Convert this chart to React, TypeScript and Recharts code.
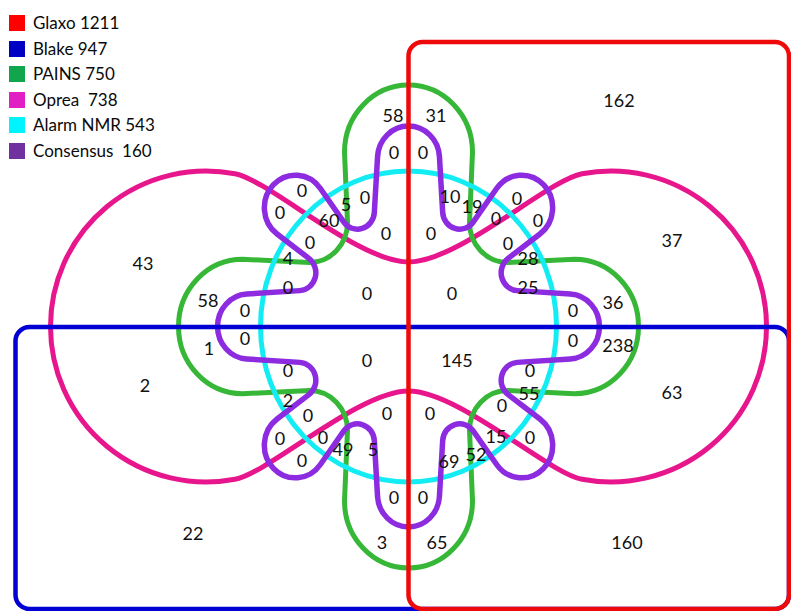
import React from "react";
import { ScatterChart, Scatter, XAxis, YAxis, ReferenceArea } from "recharts";

const W = 791;
const H = 611;
const X_DOMAIN: [number, number] = [0, W];
const Y_DOMAIN: [number, number] = [0, H];
const PX = W / (X_DOMAIN[1] - X_DOMAIN[0]);

// ---------- legend ----------
const legendLabels = ["Glaxo 1211", "Blake 947", "PAINS 750", "Oprea  738", "Alarm NMR 543", "Consensus  160"];
const legendColors = ["#ff0000", "#0000c4", "#12a64c", "#e01ec4", "#00f4ff", "#7030a0"];

// ---------- region counts & their anchors ----------
const regionCounts = [
  58, 31, 0, 0,
  0, 0, 60, 5, 0,
  0, 0, 10, 19,
  0, 0, 0, 0, 28,
  0, 4,
  0, 0, 0, 25,
  58, 0, 1, 0,
  0, 36, 0, 238,
  0, 0, 145, 0,
  2, 0, 0, 0, 0, 55,
  0, 0, 49, 5, 69, 52, 15, 0,
  0,
  0, 0,
  3, 65,
  162, 43, 37, 2, 63, 22, 160,
];
const regionAnchorX = [
  393, 436, 394, 423,
  302, 280, 329, 346, 365,
  386, 431, 450, 472,
  517, 496, 538, 508, 528,
  310, 288,
  288, 367, 452, 528,
  208, 245, 209, 245,
  573, 613, 573, 618,
  288, 367, 457, 530,
  288, 308, 387, 430, 502, 529,
  280, 323, 343, 373, 449, 476, 496, 530,
  302,
  394, 423,
  382, 437,
  619, 143, 672, 145, 672, 193, 627,
];
const regionAnchorY = [
  115, 115, 152, 152,
  190, 212, 220, 204, 197,
  233, 233, 196, 206,
  198, 218, 220, 243, 258,
  242, 258,
  287, 293, 293, 287,
  300, 310, 348, 338,
  310, 302, 340, 345,
  370, 360, 360, 370,
  400, 415, 413, 413, 405, 393,
  438, 437, 449, 449, 461, 454, 436, 437,
  460,
  497, 497,
  542, 542,
  100, 263, 240, 385, 392, 533, 542,
];
const regionData = regionCounts.map((v, i) => ({ x: regionAnchorX[i], y: regionAnchorY[i], v }));

// ---------- set outlines (geometry in chart units) ----------
const center = [{ x: 408.5, y: 326.5 }];
const STRETCH_Y = 1.05;
const glaxoBox = { x1: 408.5, x2: 789, y1: 42, y2: 609 };
const blakeBox = { x1: 15.5, x2: 789, y1: 327, y2: 609 };

// Oprea (two circles joined by inner curves)
const OP_CIRCLE_DX = 202.5;
const OP_R = 155.5;
const OP_JX = 173.5;
const OP_INNER = 64.5;
// PAINS (four lobes)
const PA_LOBE_DIST = 166;
const PA_LOBE_R = 64;
const PA_NECK = 99;
const PA_LEG = 61;
// Alarm NMR (circle)
const AL_R = 148;
// Consensus (wavy ring)
const CO_LOBE_DIST = 160;
const CO_LOBE_R = 31;
const CO_BEND_DIST = 121;
const CO_BEND_R = 17;

const COLORS = {
  glaxo: "#ee0a0a",
  blake: "#0000d4",
  pains: "#37b737",
  oprea: "#e8168c",
  alarm: "#14ecf4",
  cons: "#8c2be0",
};

const rad = (a: number) => (a * Math.PI) / 180;
const f = (n: number) => (n * PX).toFixed(2);

function opreaPath(): string {
  const dx = OP_CIRCLE_DX - OP_JX;
  const JY = Math.sqrt(OP_R * OP_R - dx * dx);
  const tl = 35;
  const tx = JY / OP_R;
  const ty = dx / OP_R;
  const p1x = OP_JX - tl * tx;
  const p1y = JY - tl * ty;
  const R = OP_R;
  return [
    `M ${f(-OP_JX)} ${f(-JY)}`,
    `C ${f(-p1x)} ${f(-p1y)} ${f(-50)} ${f(-OP_INNER)} 0 ${f(-OP_INNER)}`,
    `C ${f(50)} ${f(-OP_INNER)} ${f(p1x)} ${f(-p1y)} ${f(OP_JX)} ${f(-JY)}`,
    `A ${f(R)} ${f(R)} 0 1 1 ${f(OP_JX)} ${f(JY)}`,
    `C ${f(p1x)} ${f(p1y)} ${f(50)} ${f(OP_INNER)} 0 ${f(OP_INNER)}`,
    `C ${f(-50)} ${f(OP_INNER)} ${f(-p1x)} ${f(p1y)} ${f(-OP_JX)} ${f(JY)}`,
    `A ${f(R)} ${f(R)} 0 1 1 ${f(-OP_JX)} ${f(-JY)} Z`,
  ].join(" ");
}

function painsPath(): string {
  let d = "";
  const rf = PA_NECK - PA_LEG;
  for (let k = 0; k < 4; k++) {
    const t = rad(-90 + 90 * k);
    const e = [Math.cos(t), Math.sin(t)];
    const p = [-e[1], e[0]];
    const pt = (u: number, v: number) => `${f(u * e[0] + v * p[0])} ${f(u * e[1] + v * p[1])}`;
    const tn = rad(-90 + 90 * (k + 1));
    const en = [Math.cos(tn), Math.sin(tn)];
    const pn = [-en[1], en[0]];
    const ptn = (u: number, v: number) => `${f(u * en[0] + v * pn[0])} ${f(u * en[1] + v * pn[1])}`;
    if (k === 0) d += `M ${pt(PA_NECK, -PA_LEG)} `;
    d += `L ${pt(PA_LOBE_DIST, -PA_LOBE_R)} `;
    d += `A ${f(PA_LOBE_R)} ${f(PA_LOBE_R)} 0 0 1 ${pt(PA_LOBE_DIST, PA_LOBE_R)} `;
    d += `L ${pt(PA_NECK, PA_LEG)} `;
    d += `A ${f(rf)} ${f(rf)} 0 0 0 ${ptn(PA_NECK, -PA_LEG)} `;
  }
  return d + "Z";
}

function consensusPath(): string {
  type Circ = { x: number; y: number; r: number; outer: boolean };
  const cs: Circ[] = [];
  for (let k = 0; k < 8; k++) {
    const t = -90 + 45 * k;
    cs.push({ x: CO_LOBE_DIST * Math.cos(rad(t)), y: CO_LOBE_DIST * Math.sin(rad(t)), r: CO_LOBE_R, outer: true });
    const tb = t + (k % 2 === 0 ? 25 : 20);
    cs.push({ x: CO_BEND_DIST * Math.cos(rad(tb)), y: CO_BEND_DIST * Math.sin(rad(tb)), r: CO_BEND_R, outer: false });
  }
  const n = cs.length;
  const exitPt: number[][] = [];
  const entryPt: number[][] = [];
  for (let i = 0; i < n; i++) {
    const a = cs[i];
    const b = cs[(i + 1) % n];
    const dx = b.x - a.x;
    const dy = b.y - a.y;
    const L = Math.hypot(dx, dy);
    const ux = dx / L;
    const uy = dy / L;
    const al = Math.acos((a.r + b.r) / L) * (a.outer ? -1 : 1);
    const nx = ux * Math.cos(al) - uy * Math.sin(al);
    const ny = ux * Math.sin(al) + uy * Math.cos(al);
    exitPt[i] = [a.x + a.r * nx, a.y + a.r * ny];
    entryPt[(i + 1) % n] = [b.x - b.r * nx, b.y - b.r * ny];
  }
  let d = `M ${f(entryPt[0][0])} ${f(entryPt[0][1])}`;
  for (let i = 0; i < n; i++) {
    const c = cs[i];
    const [ex, ey] = entryPt[i];
    const [xx, xy] = exitPt[i];
    const a1 = Math.atan2(ey - c.y, ex - c.x);
    const a2 = Math.atan2(xy - c.y, xx - c.x);
    let sw = c.outer ? a2 - a1 : a1 - a2;
    sw = ((sw % (2 * Math.PI)) + 2 * Math.PI) % (2 * Math.PI);
    const large = sw > Math.PI ? 1 : 0;
    d += ` A ${f(c.r)} ${f(c.r)} 0 ${large} ${c.outer ? 1 : 0} ${f(xx)} ${f(xy)}`;
    const nxt = entryPt[(i + 1) % n];
    d += ` L ${f(nxt[0])} ${f(nxt[1])}`;
  }
  return d + " Z";
}

const OpreaShape = (props: any) => (
  <path
    transform={`translate(${props.cx},${props.cy})`}
    d={opreaPath()}
    fill="none"
    stroke={COLORS.oprea}
    strokeWidth={5}
  />
);

const PainsShape = (props: any) => (
  <g transform={`translate(${props.cx},${props.cy}) scale(1,${STRETCH_Y})`}>
    <path d={painsPath()} fill="none" stroke={COLORS.pains} strokeWidth={5} vectorEffect="non-scaling-stroke" />
  </g>
);

const AlarmShape = (props: any) => (
  <ellipse
    cx={props.cx}
    cy={props.cy}
    rx={AL_R * PX}
    ry={AL_R * PX * STRETCH_Y}
    fill="none"
    stroke={COLORS.alarm}
    strokeWidth={5}
  />
);

const ConsensusShape = (props: any) => (
  <g transform={`translate(${props.cx},${props.cy}) scale(1,${STRETCH_Y})`}>
    <path
      d={consensusPath()}
      fill="none"
      stroke={COLORS.cons}
      strokeWidth={5.5}
      strokeLinejoin="round"
      vectorEffect="non-scaling-stroke"
    />
  </g>
);

const LabelShape = (props: any) => (
  <text
    x={props.cx}
    y={props.cy + 6.5}
    textAnchor="middle"
    fontFamily="Lato, 'Open Sans', sans-serif"
    fontSize={18}
    fill="#111"
  >
    {props.payload.v}
  </text>
);

const boxShape = (color: string) => (p: any) => (
  <rect
    x={p.x}
    y={p.y}
    width={p.width}
    height={p.height}
    rx={14}
    ry={14}
    fill="none"
    stroke={color}
    strokeWidth={4.5}
  />
);

export default function App() {
  return (
    <div style={{ position: "absolute", left: 0, top: 0, width: W, height: H, background: "#fff" }}>
      <ScatterChart width={W} height={H} margin={{ top: 0, right: 0, bottom: 0, left: 0 }}>
        <XAxis type="number" dataKey="x" domain={X_DOMAIN} hide allowDataOverflow />
        <YAxis type="number" dataKey="y" domain={Y_DOMAIN} reversed hide allowDataOverflow />
        <Scatter data={center} shape={OpreaShape} isAnimationActive={false} />
        <Scatter data={center} shape={PainsShape} isAnimationActive={false} />
        <Scatter data={center} shape={AlarmShape} isAnimationActive={false} />
        <Scatter data={center} shape={ConsensusShape} isAnimationActive={false} />
        <ReferenceArea
          x1={blakeBox.x1}
          x2={blakeBox.x2}
          y1={blakeBox.y1}
          y2={blakeBox.y2}
          shape={boxShape(COLORS.blake)}
          zIndex={700}
        />
        <ReferenceArea
          x1={glaxoBox.x1}
          x2={glaxoBox.x2}
          y1={glaxoBox.y1}
          y2={glaxoBox.y2}
          shape={boxShape(COLORS.glaxo)}
          zIndex={710}
        />
        <Scatter data={regionData} shape={LabelShape} isAnimationActive={false} zIndex={800} />
      </ScatterChart>
      <div style={{ position: "absolute", left: 0, top: 0 }}>
        {legendLabels.map((lab, i) => (
          <div
            key={lab}
            style={{
              position: "absolute",
              left: 9,
              top: 15 + i * 25.6,
              height: 16,
              display: "flex",
              alignItems: "center",
              whiteSpace: "pre",
              fontFamily: "Lato, 'Open Sans', sans-serif",
              fontSize: 17,
              color: "#0a0a0a",
            }}
          >
            <span style={{ display: "inline-block", width: 16, height: 16, background: legendColors[i], marginRight: 8 }} />
            <span style={{ lineHeight: "16px" }}>{lab}</span>
          </div>
        ))}
      </div>
    </div>
  );
}
